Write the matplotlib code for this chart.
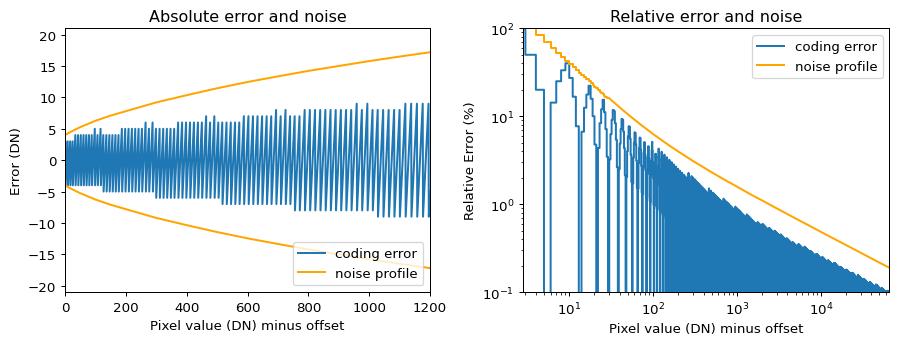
import numpy as np
import matplotlib
matplotlib.use("Agg")
import matplotlib.pyplot as plt

# ---- data ----
# quantisation bin width of the coder, by pixel-value segment (DN)
seg_start = [0, 25, 126, 170, 296, 353, 510, 564, 745, 762, 1014, 1090,
             1300, 1500, 1750, 2000, 2400, 2800, 3300, 3900, 4600, 5400,
             6400, 7500, 8800, 10400, 12200, 14400, 17000, 20000, 23500,
             27700, 32600, 38400, 45200, 53200, 62000]
seg_width = [8, 9, 10, 11, 12, 13, 14, 15, 16, 17, 18, 19,
             20, 21, 23, 24, 26, 28, 30, 33, 35, 38,
             42, 45, 49, 53, 57, 62, 67, 73, 79,
             86, 93, 101, 110, 119, 129]
# single wider bins (error spikes) seen in the absolute-error panel
spike_pos = [95, 115, 261, 285, 457, 485, 687, 718, 948, 981]
first_bin_low = -6
x_max = 65535

# noise profile (DN) in the absolute panel
noise_x = [0, 10, 25, 50, 100, 150, 200, 300, 400, 500, 600, 700, 800,
           900, 1000, 1100, 1200]
noise_dn = [4.0, 4.28, 4.67, 5.26, 6.27, 7.1, 7.8, 9.2, 10.35, 11.45, 12.45,
            13.35, 14.22, 15.0, 15.78, 16.5, 17.19]

# relative noise profile (%) in the relative panel
rel_noise_x_steps = list(range(3, 31))
rel_noise_steps = [136, 102.9, 82.9, 69.5, 60.0, 52.8, 47.3, 42.8, 39.2, 36.1,
                   33.6, 31.3, 29.4, 27.8, 26.3, 25.0, 23.8, 22.7, 21.7, 20.8,
                   19.9, 19.1, 18.4, 17.7, 17.1, 16.5, 16.2, 15.98]
rel_noise_x = [30, 40, 50, 70, 100, 150, 200, 300, 500, 700, 1000, 1500,
               2000, 3000, 5000, 7000, 10000, 15000, 20000, 30000, 50000, 65535]
rel_noise = [15.98, 12.58, 10.52, 8.12, 6.27, 4.76, 3.96, 3.09, 2.30, 1.91,
             1.58, 1.27, 1.10, 0.891, 0.687, 0.580, 0.484, 0.395, 0.342,
             0.279, 0.216, 0.189]

# ---- build the coding error from the bin table ----
lows, widths, centers = [], [], []
lo = first_bin_low
starts = np.array(seg_start)
while lo <= x_max:
    i = max(np.searchsorted(starts, lo, side="right") - 1, 0)
    w = seg_width[i]
    c = lo + w // 2
    if any(lo <= s < lo + w for s in spike_pos):
        w += 1
    lows.append(lo); widths.append(w); centers.append(c)
    lo += w
pix = np.arange(first_bin_low, lo)
cent = np.repeat(centers, widths)
err_all = pix - cent
x_all = pix
mask_abs = (x_all >= 0) & (x_all <= 1200)
mask_rel = (x_all >= 1) & (x_all <= x_max)
x_r = x_all[mask_rel]
rel_err = np.abs(err_all[mask_rel]) / x_r * 100.0

blue = "#1f77b4"
orange = "orange"
fs = 10.7
fst = 12.8

fig = plt.figure(figsize=(10, 3.8333), dpi=90)
ax1 = fig.add_axes([0.0722, 0.1507, 0.4056, 0.7643])
ax2 = fig.add_axes([0.5814, 0.1507, 0.4067, 0.7643])

nx = np.array(noise_x); nd = np.array(noise_dn)
ax1.plot(x_all[mask_abs], err_all[mask_abs], color=blue, lw=1.6, label="coding error")
ax1.plot(nx, nd, color=orange, lw=1.6, label="noise profile")
ax1.plot(nx, -nd, color=orange, lw=1.6)
ax1.set_xlim(0, 1200)
ax1.set_ylim(-21, 21)
ax1.set_yticks([-20, -15, -10, -5, 0, 5, 10, 15, 20])
ax1.set_title("Absolute error and noise", fontsize=fst)
ax1.set_xlabel("Pixel value (DN) minus offset", fontsize=fs)
ax1.set_ylabel("Error (DN)", fontsize=fs)
ax1.tick_params(labelsize=fs)
ax1.legend(loc="lower right", fontsize=fs)

ax2.plot(x_r, rel_err, color=blue, lw=1.6, drawstyle="steps-pre", label="coding error")
ax2.plot(rel_noise_x_steps, rel_noise_steps, color=orange, lw=1.6,
         drawstyle="steps-pre", label="noise profile")
ax2.plot(rel_noise_x, rel_noise, color=orange, lw=1.6)
ax2.set_xscale("log")
ax2.set_yscale("log")
ax2.set_xlim(2.83, 65535)
ax2.set_ylim(0.1, 100)
ax2.set_title("Relative error and noise", fontsize=fst)
ax2.set_xlabel("Pixel value (DN) minus offset", fontsize=fs)
ax2.set_ylabel("Relative Error (%)", fontsize=fs)
ax2.tick_params(labelsize=fs)
ax2.legend(loc="upper right", fontsize=fs)

fig.savefig("out.png", dpi=90)
